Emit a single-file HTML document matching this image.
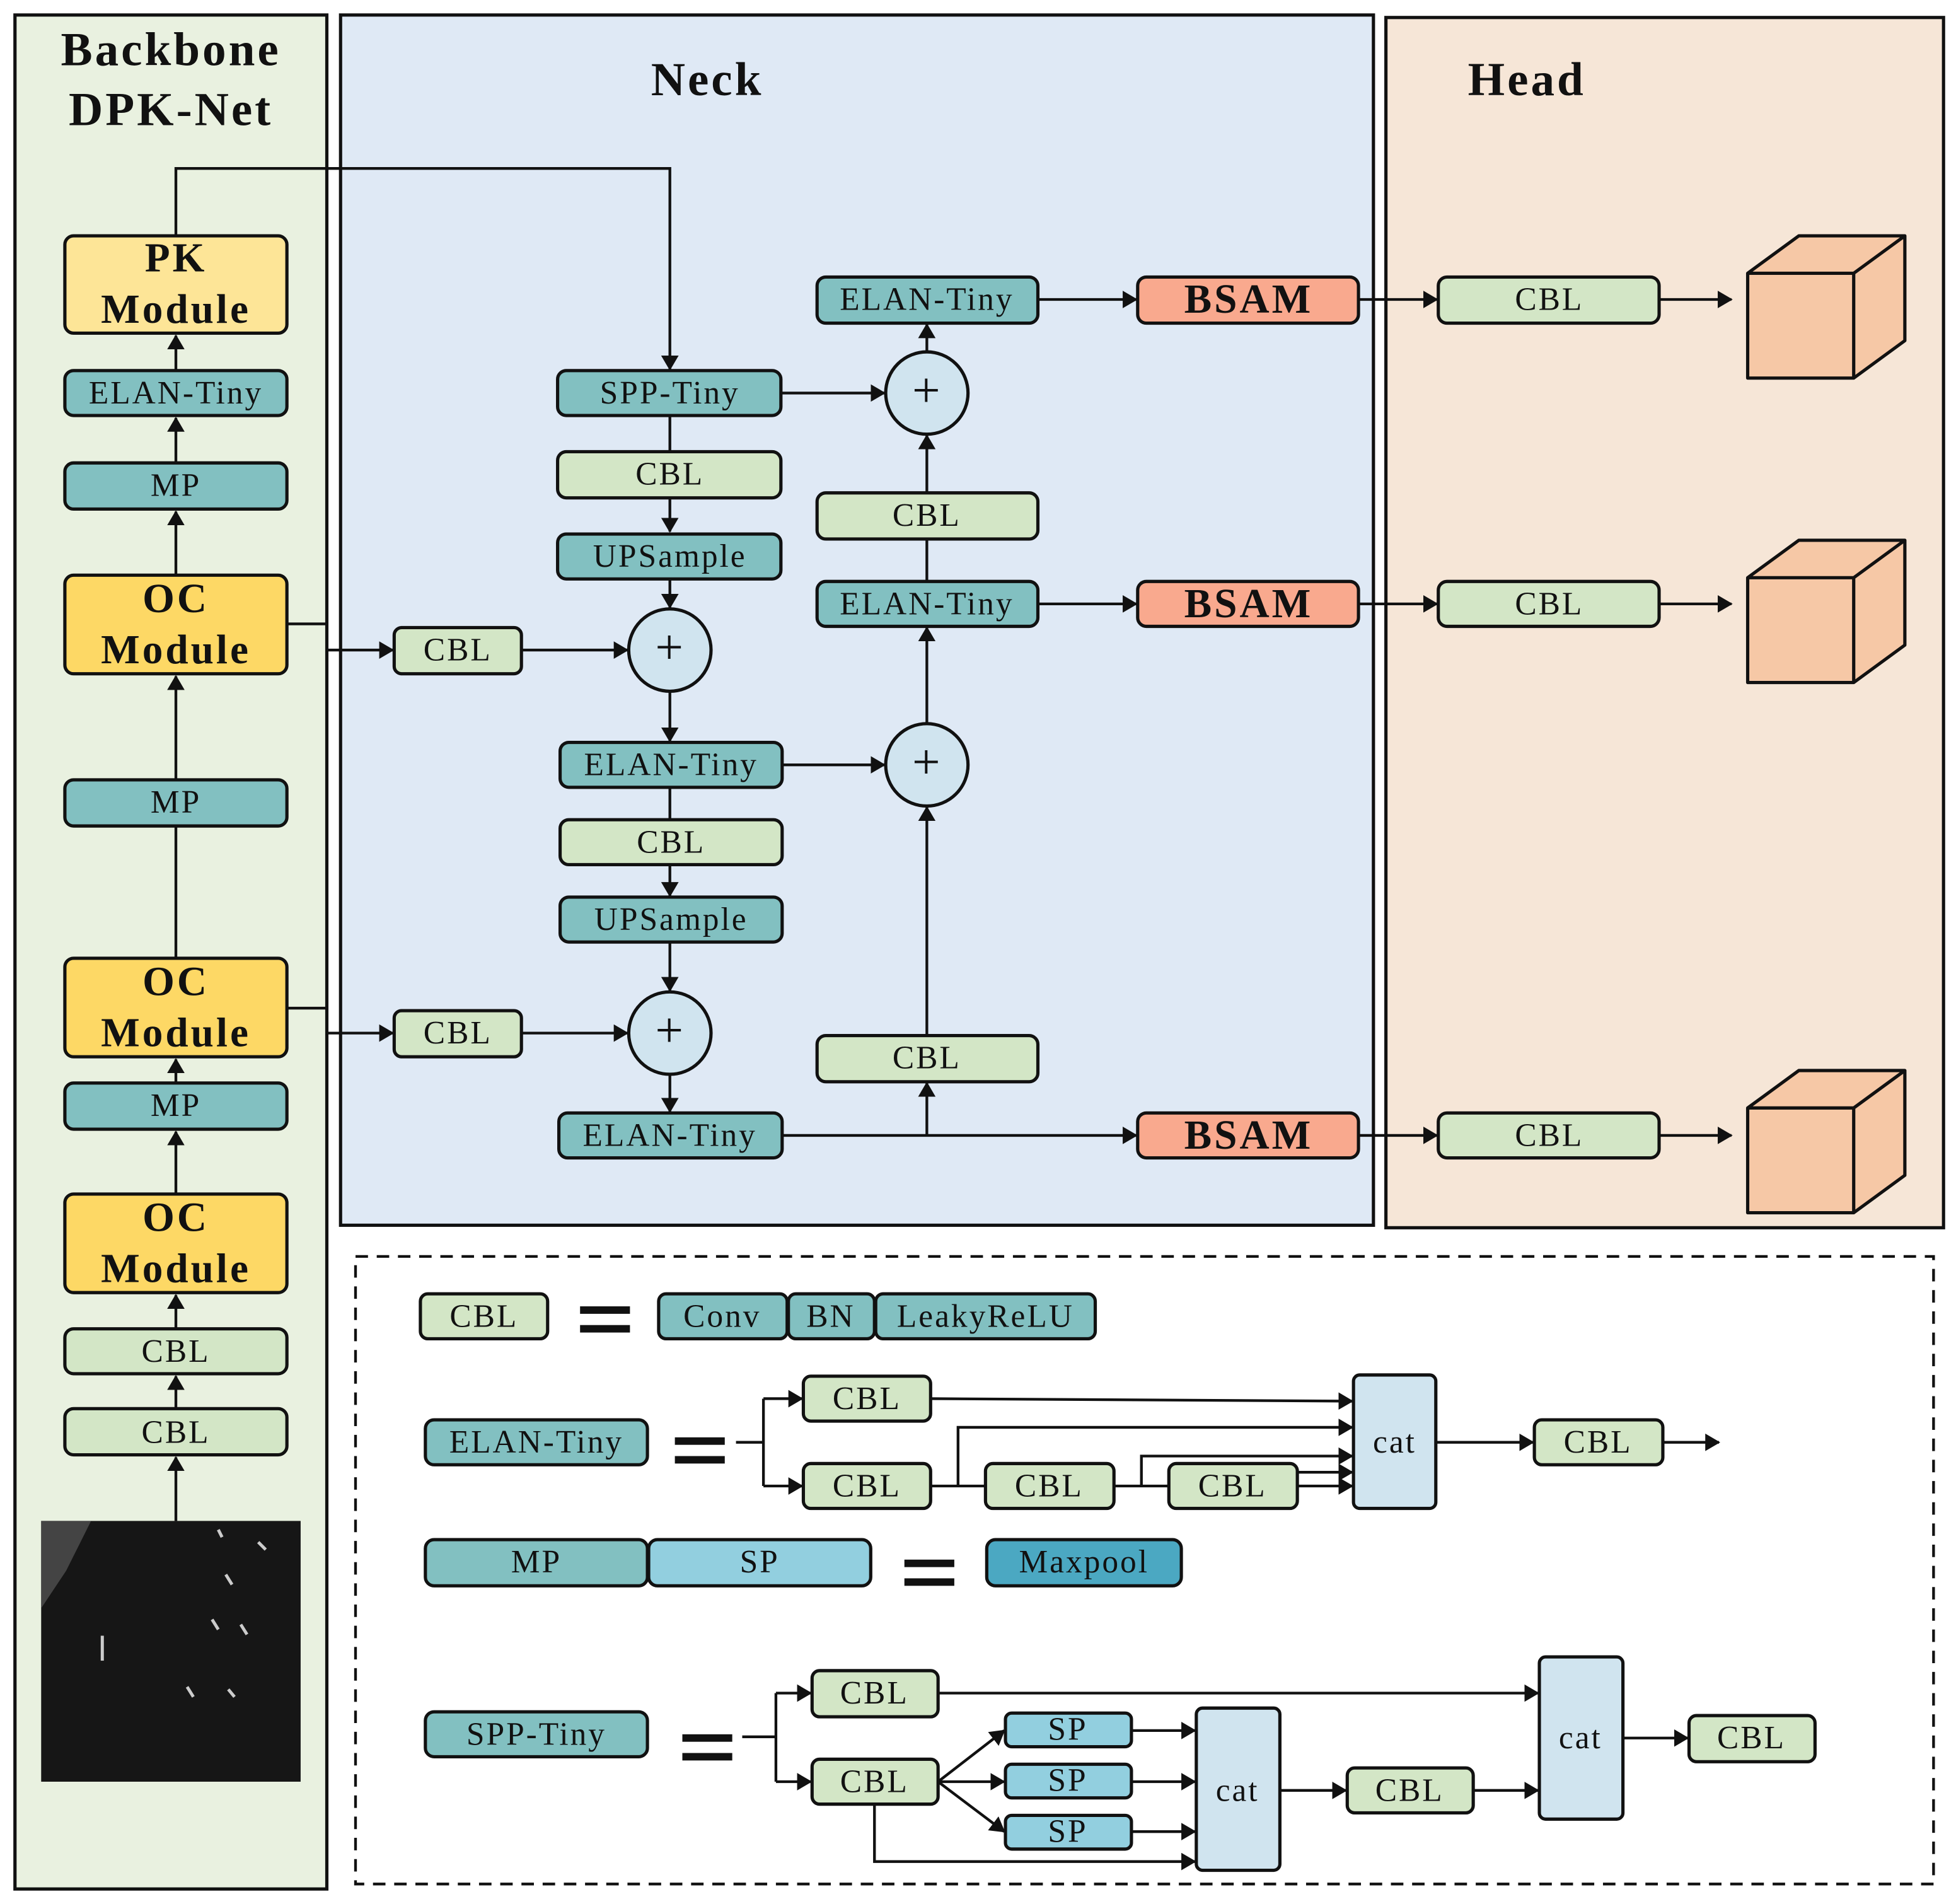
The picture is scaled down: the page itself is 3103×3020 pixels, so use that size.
<!DOCTYPE html>
<html><head><meta charset="utf-8"><style>
html,body{margin:0;padding:0;background:#fff}
svg{display:block}
text{font-family:"Liberation Serif",serif;text-anchor:middle;dominant-baseline:central;fill:#111}
.b{stroke:#111;stroke-width:2.6}
.l{stroke:#111;stroke-width:2.2;fill:none}
.t{fill:#82c0c1}.g{fill:#d3e6c6}.y1{fill:#fde597}.y2{fill:#fdd865}.r{fill:#f9a98e}.c{fill:#d0e4ef}
.f{font-size:26px;letter-spacing:1.5px}.h{font-size:33px;font-weight:bold;letter-spacing:2px}
.T{font-size:38px;font-weight:bold;letter-spacing:2px}
.p{font-size:40px;letter-spacing:1px}
</style></head><body>
<svg width="3103" height="3020" viewBox="0 0 1568 1526" xmlns="http://www.w3.org/2000/svg">
<defs><marker id="a" markerUnits="userSpaceOnUse" markerWidth="12" markerHeight="14" refX="11" refY="7" orient="auto"><path d="M0,0L12,7L0,14z" fill="#111"/></marker></defs>
<rect x="12" y="12" width="250" height="1502" fill="#e9f1e0" class="b"/>
<rect x="273" y="12" width="828" height="970" fill="#dfe9f5" class="b"/>
<rect x="1111" y="14" width="447" height="970" fill="#f6e6d7" class="b"/>
<rect x="285" y="1007" width="1265" height="503" fill="none" stroke="#111" stroke-width="2.2" stroke-dasharray="10,7"/>
<text x="137" y="40" class="T">Backbone</text>
<text x="137" y="88" class="T">DPK-Net</text>
<text x="567" y="64" class="T">Neck</text>
<text x="1224" y="64" class="T">Head</text>

<g class="l">
<path d="M141,1219V1168" marker-end="url(#a)"/><path d="M141,1129V1103" marker-end="url(#a)"/><path d="M141,1065V1038" marker-end="url(#a)"/>
<path d="M141,957V907" marker-end="url(#a)"/><path d="M141,868V849" marker-end="url(#a)"/><path d="M141,768V662"/>
<path d="M141,625V542" marker-end="url(#a)"/><path d="M141,461V410" marker-end="url(#a)"/><path d="M141,371V335" marker-end="url(#a)"/><path d="M141,297V269" marker-end="url(#a)"/>
<path d="M141,189V135H537V296" marker-end="url(#a)"/>
<path d="M230,500H262V521H315" marker-end="url(#a)"/><path d="M230,808H262V828H315" marker-end="url(#a)"/>
</g>
<rect x="52" y="189" width="178" height="78" rx="7" class="b y1"/><text x="141" y="207" class="h">PK</text><text x="141" y="248" class="h">Module</text>
<rect x="52" y="297" width="178" height="36" rx="7" class="b t"/><text x="141" y="315" class="f">ELAN-Tiny</text>
<rect x="52" y="371" width="178" height="37" rx="7" class="b t"/><text x="141" y="389" class="f">MP</text>
<rect x="52" y="461" width="178" height="79" rx="7" class="b y2"/><text x="141" y="480" class="h">OC</text><text x="141" y="521" class="h">Module</text>
<rect x="52" y="625" width="178" height="37" rx="7" class="b t"/><text x="141" y="643" class="f">MP</text>
<rect x="52" y="768" width="178" height="79" rx="7" class="b y2"/><text x="141" y="787" class="h">OC</text><text x="141" y="828" class="h">Module</text>
<rect x="52" y="868" width="178" height="37" rx="7" class="b t"/><text x="141" y="886" class="f">MP</text>
<rect x="52" y="957" width="178" height="79" rx="7" class="b y2"/><text x="141" y="976" class="h">OC</text><text x="141" y="1017" class="h">Module</text>
<rect x="52" y="1065" width="178" height="36" rx="7" class="b g"/><text x="141" y="1083" class="f">CBL</text>
<rect x="52" y="1129" width="178" height="37" rx="7" class="b g"/><text x="141" y="1148" class="f">CBL</text>
<rect x="33" y="1219" width="208" height="209" fill="#161616"/>
<path d="M33,1219h40l-20,40l-20,30z" fill="#444"/>
<g stroke="#ccc" stroke-width="2.5"><path d="M82,1311v20"/><path d="M150,1352l5,8"/><path d="M170,1298l5,8"/><path d="M193,1302l5,8"/><path d="M181,1262l5,8"/><path d="M175,1226l3,6"/><path d="M207,1236l6,6"/><path d="M183,1354l5,6"/></g>

<g class="l">
<path d="M537,333V362"/><path d="M537,399V426" marker-end="url(#a)"/><path d="M537,464V487" marker-end="url(#a)"/>
<path d="M418,521H503" marker-end="url(#a)"/><path d="M537,554V594" marker-end="url(#a)"/>
<path d="M537,631V657"/><path d="M537,693V718" marker-end="url(#a)"/><path d="M537,755V794" marker-end="url(#a)"/>
<path d="M418,828H503" marker-end="url(#a)"/><path d="M537,861V891" marker-end="url(#a)"/>
<path d="M626,315H709" marker-end="url(#a)"/><path d="M627,613H709" marker-end="url(#a)"/>
<path d="M743,580V503" marker-end="url(#a)"/><path d="M743,466V432"/><path d="M743,395V349" marker-end="url(#a)"/>
<path d="M743,282V260" marker-end="url(#a)"/><path d="M743,830V647" marker-end="url(#a)"/>
<path d="M627,910H911" marker-end="url(#a)"/><path d="M743,910V868" marker-end="url(#a)"/>
<path d="M832,240H911" marker-end="url(#a)"/><path d="M832,484H911" marker-end="url(#a)"/>
<path d="M1089,240H1152" marker-end="url(#a)"/><path d="M1089,484H1152" marker-end="url(#a)"/><path d="M1089,910H1152" marker-end="url(#a)"/>
<path d="M1330,240H1388" marker-end="url(#a)"/><path d="M1330,484H1388" marker-end="url(#a)"/><path d="M1330,910H1388" marker-end="url(#a)"/>
</g>
<rect x="447" y="297" width="179" height="36" rx="7" class="b t"/><text x="537" y="315" class="f">SPP-Tiny</text>
<rect x="447" y="362" width="179" height="37" rx="7" class="b g"/><text x="537" y="380" class="f">CBL</text>
<rect x="447" y="428" width="179" height="36" rx="7" class="b t"/><text x="537" y="446" class="f">UPSample</text>
<circle cx="537" cy="521" r="33" class="b c"/><text x="537" y="519" class="p">+</text>
<rect x="316" y="503" width="102" height="37" rx="6" class="b g"/><text x="367" y="521" class="f">CBL</text>
<rect x="449" y="595" width="178" height="36" rx="7" class="b t"/><text x="538" y="613" class="f">ELAN-Tiny</text>
<rect x="449" y="657" width="178" height="36" rx="7" class="b g"/><text x="538" y="675" class="f">CBL</text>
<rect x="449" y="719" width="178" height="36" rx="7" class="b t"/><text x="538" y="737" class="f">UPSample</text>
<circle cx="537" cy="828" r="33" class="b c"/><text x="537" y="826" class="p">+</text>
<rect x="316" y="810" width="102" height="37" rx="6" class="b g"/><text x="367" y="828" class="f">CBL</text>
<rect x="448" y="892" width="179" height="36" rx="7" class="b t"/><text x="537" y="910" class="f">ELAN-Tiny</text>
<rect x="655" y="222" width="177" height="37" rx="7" class="b t"/><text x="743" y="240" class="f">ELAN-Tiny</text>
<circle cx="743" cy="315" r="33" class="b c"/><text x="743" y="313" class="p">+</text>
<rect x="655" y="395" width="177" height="37" rx="7" class="b g"/><text x="743" y="413" class="f">CBL</text>
<rect x="655" y="466" width="177" height="36" rx="7" class="b t"/><text x="743" y="484" class="f">ELAN-Tiny</text>
<circle cx="743" cy="613" r="33" class="b c"/><text x="743" y="611" class="p">+</text>
<rect x="655" y="830" width="177" height="37" rx="7" class="b g"/><text x="743" y="848" class="f">CBL</text>
<rect x="912" y="222" width="177" height="37" rx="7" class="b r"/><text x="1001" y="240" class="h">BSAM</text>
<rect x="912" y="466" width="177" height="36" rx="7" class="b r"/><text x="1001" y="484" class="h">BSAM</text>
<rect x="912" y="892" width="177" height="36" rx="7" class="b r"/><text x="1001" y="910" class="h">BSAM</text>
<rect x="1153" y="222" width="177" height="37" rx="7" class="b g"/><text x="1242" y="240" class="f">CBL</text>
<rect x="1153" y="466" width="177" height="36" rx="7" class="b g"/><text x="1242" y="484" class="f">CBL</text>
<rect x="1153" y="892" width="177" height="36" rx="7" class="b g"/><text x="1242" y="910" class="f">CBL</text>
<g fill="#f6c8a6" stroke="#111" stroke-width="2.6" stroke-linejoin="round">
<path d="M1401,219h85v84h-85z M1401,219l41,-30h85l-41,30z M1486,219l41,-30v84l-41,30z"/>
<path d="M1401,463h85v84h-85z M1401,463l41,-30h85l-41,30z M1486,463l41,-30v84l-41,30z"/>
<path d="M1401,888h85v84h-85z M1401,888l41,-30h85l-41,30z M1486,888l41,-30v84l-41,30z"/>
</g>

<g fill="#111"><rect x="465" y="1047" width="40" height="6"/><rect x="465" y="1062" width="40" height="6"/>
<rect x="541" y="1152" width="40" height="6"/><rect x="541" y="1167" width="40" height="6"/>
<rect x="725" y="1250" width="40" height="6"/><rect x="725" y="1265" width="40" height="6"/>
<rect x="547" y="1390" width="40" height="6"/><rect x="547" y="1405" width="40" height="6"/></g>
<rect x="337" y="1037" width="102" height="36" rx="6" class="b g"/><text x="388" y="1055" class="f">CBL</text>
<rect x="528" y="1037" width="103" height="36" rx="6" class="b t"/><text x="579" y="1055" class="f">Conv</text>
<rect x="632" y="1037" width="69" height="36" rx="6" class="b t"/><text x="666" y="1055" class="f">BN</text>
<rect x="702" y="1037" width="176" height="36" rx="6" class="b t"/><text x="790" y="1055" class="f">LeakyReLU</text>

<g class="l">
<path d="M590,1156H612"/><path d="M612,1121V1191"/><path d="M612,1121H643" marker-end="url(#a)"/><path d="M612,1191H643" marker-end="url(#a)"/>
<path d="M746,1121L1084,1123" marker-end="url(#a)"/><path d="M746,1191H790"/><path d="M768,1191V1144H1084" marker-end="url(#a)"/>
<path d="M893,1191H937"/><path d="M915,1191V1167H1084" marker-end="url(#a)"/><path d="M1040,1191H1084" marker-end="url(#a)"/>
<path d="M1040,1180H1084" marker-end="url(#a)"/>
<path d="M1151,1156H1229" marker-end="url(#a)"/><path d="M1333,1156H1378" marker-end="url(#a)"/>
</g>
<rect x="341" y="1138" width="178" height="36" rx="7" class="b t"/><text x="430" y="1156" class="f">ELAN-Tiny</text>
<rect x="644" y="1103" width="102" height="36" rx="6" class="b g"/><text x="695" y="1121" class="f">CBL</text>
<rect x="644" y="1173" width="102" height="36" rx="6" class="b g"/><text x="695" y="1191" class="f">CBL</text>
<rect x="790" y="1173" width="103" height="36" rx="6" class="b g"/><text x="841" y="1191" class="f">CBL</text>
<rect x="937" y="1173" width="103" height="36" rx="6" class="b g"/><text x="988" y="1191" class="f">CBL</text>
<rect x="1085" y="1102" width="66" height="107" rx="5" class="b c"/><text x="1118" y="1156" class="f">cat</text>
<rect x="1230" y="1138" width="103" height="36" rx="6" class="b g"/><text x="1281" y="1156" class="f">CBL</text>

<rect x="341" y="1234" width="178" height="37" rx="7" class="b t"/><text x="430" y="1252" class="f">MP</text>
<rect x="520" y="1234" width="178" height="37" rx="7" class="b" fill="#92cfdf"/><text x="609" y="1252" class="f">SP</text>
<rect x="791" y="1234" width="156" height="37" rx="7" class="b" fill="#4ba8c2"/><text x="869" y="1252" class="f">Maxpool</text>

<g class="l">
<path d="M595,1392H622"/><path d="M622,1357V1428"/><path d="M622,1357H650" marker-end="url(#a)"/><path d="M622,1428H650" marker-end="url(#a)"/>
<path d="M752,1357H1233" marker-end="url(#a)"/>
<path d="M752,1428L805,1387" marker-end="url(#a)"/><path d="M752,1428H805" marker-end="url(#a)"/><path d="M752,1428L805,1468" marker-end="url(#a)"/>
<path d="M907,1387H958" marker-end="url(#a)"/><path d="M907,1428H958" marker-end="url(#a)"/><path d="M907,1468H958" marker-end="url(#a)"/>
<path d="M701,1446V1492H958" marker-end="url(#a)"/>
<path d="M1026,1435H1079" marker-end="url(#a)"/><path d="M1181,1435H1233" marker-end="url(#a)"/><path d="M1301,1393H1353" marker-end="url(#a)"/>
</g>
<rect x="341" y="1372" width="178" height="36" rx="7" class="b t"/><text x="430" y="1390" class="f">SPP-Tiny</text>
<rect x="651" y="1339" width="101" height="37" rx="6" class="b g"/><text x="701" y="1357" class="f">CBL</text>
<rect x="651" y="1410" width="101" height="36" rx="6" class="b g"/><text x="701" y="1428" class="f">CBL</text>
<rect x="806" y="1373" width="101" height="27" rx="5" class="b" fill="#92cfdf"/><text x="856" y="1386" class="f">SP</text>
<rect x="806" y="1414" width="101" height="27" rx="5" class="b" fill="#92cfdf"/><text x="856" y="1427" class="f">SP</text>
<rect x="806" y="1455" width="101" height="27" rx="5" class="b" fill="#92cfdf"/><text x="856" y="1468" class="f">SP</text>
<rect x="959" y="1369" width="67" height="130" rx="5" class="b c"/><text x="992" y="1435" class="f">cat</text>
<rect x="1080" y="1417" width="101" height="36" rx="6" class="b g"/><text x="1130" y="1435" class="f">CBL</text>
<rect x="1234" y="1328" width="67" height="130" rx="5" class="b c"/><text x="1267" y="1393" class="f">cat</text>
<rect x="1354" y="1375" width="101" height="37" rx="6" class="b g"/><text x="1404" y="1393" class="f">CBL</text>
</svg>
</body></html>
